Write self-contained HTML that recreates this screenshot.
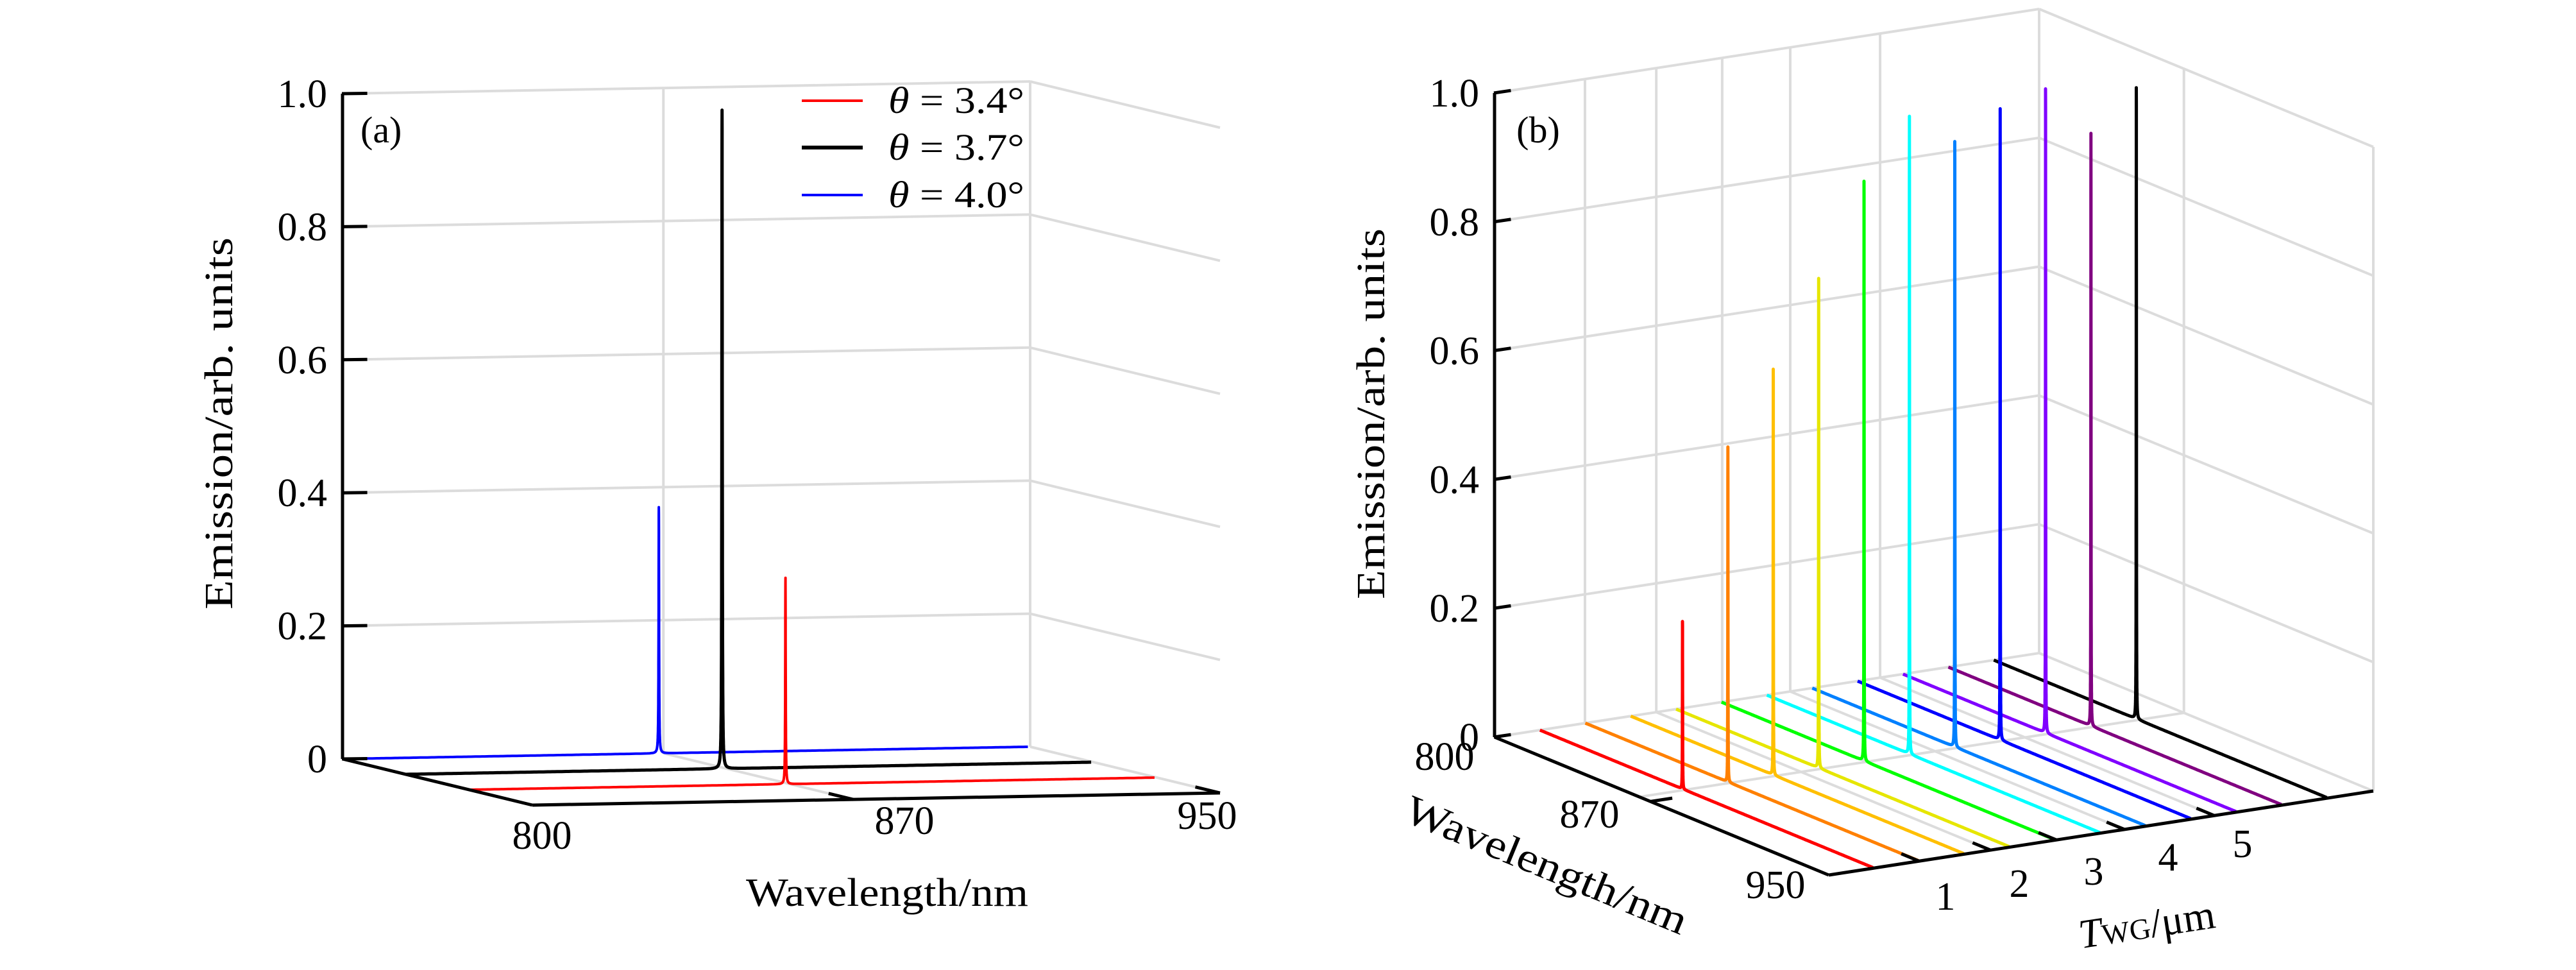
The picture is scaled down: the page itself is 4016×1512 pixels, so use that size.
<!DOCTYPE html>
<html><head><meta charset="utf-8"><style>
html,body{margin:0;padding:0;background:#fff}
svg{display:block}
text{font-family:"Liberation Serif",serif;fill:#000}
</style></head><body>
<svg id="fig" width="4016" height="1512" viewBox="0 0 4016 1512" xmlns="http://www.w3.org/2000/svg">
<g id="pa"></g>
<g id="pb"></g>
</svg>
<script>
// ---------- Panel (a) data ----------
const aSeriesNames = ["θ = 3.4°", "θ = 3.7°", "θ = 4.0°"];
const aColors = ["#ff0000", "#000000", "#0000ff"];
const aDepth = [0.667, 0.333, 0];          // position along angle (depth) axis
const aPeakWl = [869, 869, 869];           // nm
const aPeakH = [0.31, 0.99, 0.37];
const aYTicks = [0, 0.2, 0.4, 0.6, 0.8, 1.0];
const aYTickLabels = ["0", "0.2", "0.4", "0.6", "0.8", "1.0"];
const aXTicks = [800, 870, 950];
// ---------- Panel (b) data ----------
const bColors = ["#ff0000","#ff8000","#ffbf00","#e6e600","#00ff00","#00ffff","#0080ff","#0000ff","#8000ff","#800080","#000000"];
const bT = [1,2,3,4,5,6,7,8,9,10,11];      // position index along T axis (of 12)
const bPeakWl = [864,864,864,864,864,864,864,864,864,864,864];
const bPeakH = [0.26,0.52,0.63,0.76,0.90,0.99,0.94,0.98,1.0,0.92,0.98];
const bYTicks = [0, 0.2, 0.4, 0.6, 0.8, 1.0];
const bYTickLabels = ["0", "0.2", "0.4", "0.6", "0.8", "1.0"];
const bXTicks = [800, 870, 950];
const bTTickLabels = ["1","2","3","4","5"];

const NS = "http://www.w3.org/2000/svg";
function mk(parent, tag, attrs, txt){
  const e = document.createElementNS(NS, tag);
  for (const k in attrs) e.setAttribute(k, attrs[k]);
  if (txt !== undefined) e.textContent = txt;
  parent.appendChild(e); return e;
}
const GRID = "#dcdcdc";
const FS = 62;

// ===== Panel a projection =====
const A = {ox:534, oy:1183, lx:1072, ly:-19, dx:296, dy:72, zy:-1037};
function pa(wl, d, z){
  const f = (wl-800)/150;
  return [A.ox + f*A.lx + d*A.dx, A.oy + f*A.ly + d*A.dy + z*A.zy];
}
function lineA(g, p, q, stroke, w, name){
  const l = mk(g, "line", {x1:p[0], y1:p[1], x2:q[0], y2:q[1], stroke:stroke, "stroke-width":w, "stroke-linecap":"butt"});
  
  
  return l;
}
const ga = document.getElementById("pa");
aYTicks.forEach((z,i)=>{
  if (z>0){
    lineA(ga, pa(800,0,z), pa(950,0,z), GRID, 4, 'a-back-gridline');
    lineA(ga, pa(950,0,z), pa(950,1,z), GRID, 4, 'a-side-gridline');
  }
});
lineA(ga, pa(870,0,0), pa(870,0,1), GRID, 4, 'a-back-vgrid');
lineA(ga, pa(950,0,0), pa(950,0,1), GRID, 4, 'a-back-edge');
lineA(ga, pa(870,0,0), pa(870,1,0), GRID, 4, 'a-floor-grid');
lineA(ga, pa(950,0,0), pa(950,1,0), GRID, 4, 'a-floor-edge');
function tracePts(proj, wl0, h, depth){
  const pts = [];
  for (let wl=800; wl<=950.001; wl+= (Math.abs(wl-wl0)<2?0.01:0.5)){
    const g = 0.06;
    const v = h*g*g/((wl-wl0)*(wl-wl0)+g*g);
    const p = proj(wl, depth, v);
    pts.push(p[0].toFixed(1)+","+p[1].toFixed(1));
  }
  return pts.join(" ");
}
[2,1,0].forEach(i=>{
  const pl = mk(ga, "polyline", {points: tracePts(pa, aPeakWl[i], aPeakH[i], aDepth[i]), fill:"none", stroke:aColors[i], "stroke-width": i==1?5:4, "stroke-linejoin":"round"});
  
  
});
lineA(ga, pa(800,0,0), pa(800,0,1), "#000", 5, 'a-y-axis');
lineA(ga, pa(800,0,0), pa(800,1,0), "#000", 5, 'a-depth-axis');
lineA(ga, pa(800,1,0), pa(950,1,0), "#000", 5, 'a-x-axis');
aYTicks.forEach((z,i)=>{
  const p = pa(800,0,z), q = pa(804,0,z);
  lineA(ga, [p[0]-1,p[1]], [q[0]+10,q[1]], "#000", 5, 'a-y-tick');
  const t = mk(ga, "text", {x:p[0]-24, y:p[1]+21, "font-size":FS, "text-anchor":"end"}, aYTickLabels[i]);
  
  
});
const aXLab = [[845,1323],[1410,1300],[1882,1292]];
aXTicks.forEach((wl,i)=>{
  const p = pa(wl,1,0), q = pa(wl,0.87,0);
  if (i>0) lineA(ga, p, q, "#000", 5, 'a-x-tick');
  const t = mk(ga, "text", {x:aXLab[i][0], y:aXLab[i][1], "font-size":FS, "text-anchor":"middle"}, String(wl));
  
  
});
let t;
t = mk(ga, "text", {x:0, y:0, "font-size":FS, "text-anchor":"middle", transform:"translate(362,660) rotate(-90)", "textLength":580, "lengthAdjust":"spacingAndGlyphs"}, "Emission/arb. units");
 
t = mk(ga, "text", {x:1383, y:1412, "font-size":FS, "text-anchor":"middle", "textLength":440, "lengthAdjust":"spacingAndGlyphs"}, "Wavelength/nm");
 
t = mk(ga, "text", {x:562, y:222, "font-size":58}, "(a)");
 
const legY = [157, 230, 304];
aSeriesNames.forEach((n,i)=>{
  const g = mk(ga, "g", {});
  
  
  mk(g, "line", {x1:1250, y1:legY[i], x2:1345, y2:legY[i], stroke:aColors[i], "stroke-width": i==1?6:4});
  const tx = mk(g, "text", {x:1385, y:legY[i]+19, "font-size":58, "textLength":212, "lengthAdjust":"spacingAndGlyphs"});
  mk(tx, "tspan", {"font-style":"italic"}, "θ");
  mk(tx, "tspan", {}, n.slice(1));
});

// ===== Panel b projection =====
const B = {ox:2330, oy:1149, lx:521, ly:215, tx:849, ty:-131, zy:-1004};
function pb(wl, tf, z){
  const f = (wl-800)/150;
  return [B.ox + f*B.lx + tf*B.tx, B.oy + f*B.ly + tf*B.ty + z*B.zy];
}
const gb = document.getElementById("pb");
const wallT = [0.166, 0.297, 0.418, 0.543, 0.708];
bYTicks.forEach(z=>{
  if (z>0){
    lineA(gb, pb(800,0,z), pb(800,1,z), GRID, 4, 'b-back-gridline');
    lineA(gb, pb(800,1,z), pb(950,1,z), GRID, 4, 'b-side-gridline');
  }
});
wallT.forEach(tf=>{
  lineA(gb, pb(800,tf,0), pb(800,tf,1), GRID, 4, 'b-back-vgrid');
  lineA(gb, pb(800,tf,0), pb(950,tf,0), GRID, 4, 'b-floor-grid');
});
lineA(gb, pb(800,1,0), pb(800,1,1), GRID, 4, 'b-corner-edge');
lineA(gb, pb(950,1,0), pb(950,1,1), GRID, 4, 'b-side-edge');
lineA(gb, pb(865,1,0), pb(865,1,1), GRID, 4, 'b-side-vgrid');
lineA(gb, pb(865,0,0), pb(865,1,0), GRID, 4, 'b-floor-grid-wl');
lineA(gb, pb(800,0,0), pb(800,1,0), GRID, 4, 'b-floor-back-edge');
lineA(gb, pb(800,1,0), pb(950,1,0), GRID, 4, 'b-floor-side-edge');
for (let i=bT.length-1;i>=0;i--){
  const pl = mk(gb, "polyline", {points: tracePts(pb, bPeakWl[i], bPeakH[i], bT[i]/12), fill:"none", stroke:bColors[i], "stroke-width":5, "stroke-linejoin":"round"});
  
  
}
lineA(gb, pb(800,0,0), pb(800,0,1), "#000", 5, 'b-y-axis');
lineA(gb, pb(800,0,0), pb(950,0,0), "#000", 5, 'b-wavelength-axis');
lineA(gb, pb(950,0,0), pb(950,1,0), "#000", 5, 'b-t-axis');
bYTicks.forEach((z,i)=>{
  const p = pb(800,0,z), q = pb(800,0.03,z);
  lineA(gb, [p[0]-1,p[1]], q, "#000", 5, 'b-y-tick');
  const tx = mk(gb, "text", {x:p[0]-24, y:p[1]+21, "font-size":FS, "text-anchor":"end"}, bYTickLabels[i]);
  
  
});
const bXLab = [[2252,1200],[2478,1290],[2768,1400]];
bXTicks.forEach((wl,i)=>{
  if (i==1){ lineA(gb, pb(wl,0,0), pb(wl,0.04,0), "#000", 5, 'b-x-tick'); }
  const tx = mk(gb, "text", {x:bXLab[i][0], y:bXLab[i][1], "font-size":FS, "text-anchor":"middle"}, String(wl));
  
  
});
wallT.forEach(tf=>{
  lineA(gb, pb(950,tf,0), pb(942,tf,0), "#000", 5, 'b-t-tick');
});
const bTLab = [[3033,1418],[3148,1398],[3264,1379],[3380,1357],[3496,1336]];
bTTickLabels.forEach((s,i)=>{
  const tx = mk(gb, "text", {x:bTLab[i][0], y:bTLab[i][1], "font-size":FS, "text-anchor":"middle"}, s);
  
  
});
t = mk(gb, "text", {x:0, y:0, "font-size":FS, "text-anchor":"middle", transform:"translate(2158,645) rotate(-90)", "textLength":578, "lengthAdjust":"spacingAndGlyphs"}, "Emission/arb. units");
 
t = mk(gb, "text", {x:0, y:0, "font-size":64, "text-anchor":"middle", transform:"translate(2403,1368) rotate(22.4)", "textLength":470, "lengthAdjust":"spacingAndGlyphs"}, "Wavelength/nm");
 
t = mk(gb, "text", {x:0, y:0, "font-size":64, "text-anchor":"middle", transform:"translate(3350,1462) rotate(-8.8)"});
 
mk(t, "tspan", {"font-style":"italic"}, "T");
mk(t, "tspan", {"font-size":46}, "WG");
mk(t, "tspan", {}, "/μm");
t = mk(gb, "text", {x:2398, y:222, "font-size":58, "text-anchor":"middle"}, "(b)");
 
</script>
</body></html>
